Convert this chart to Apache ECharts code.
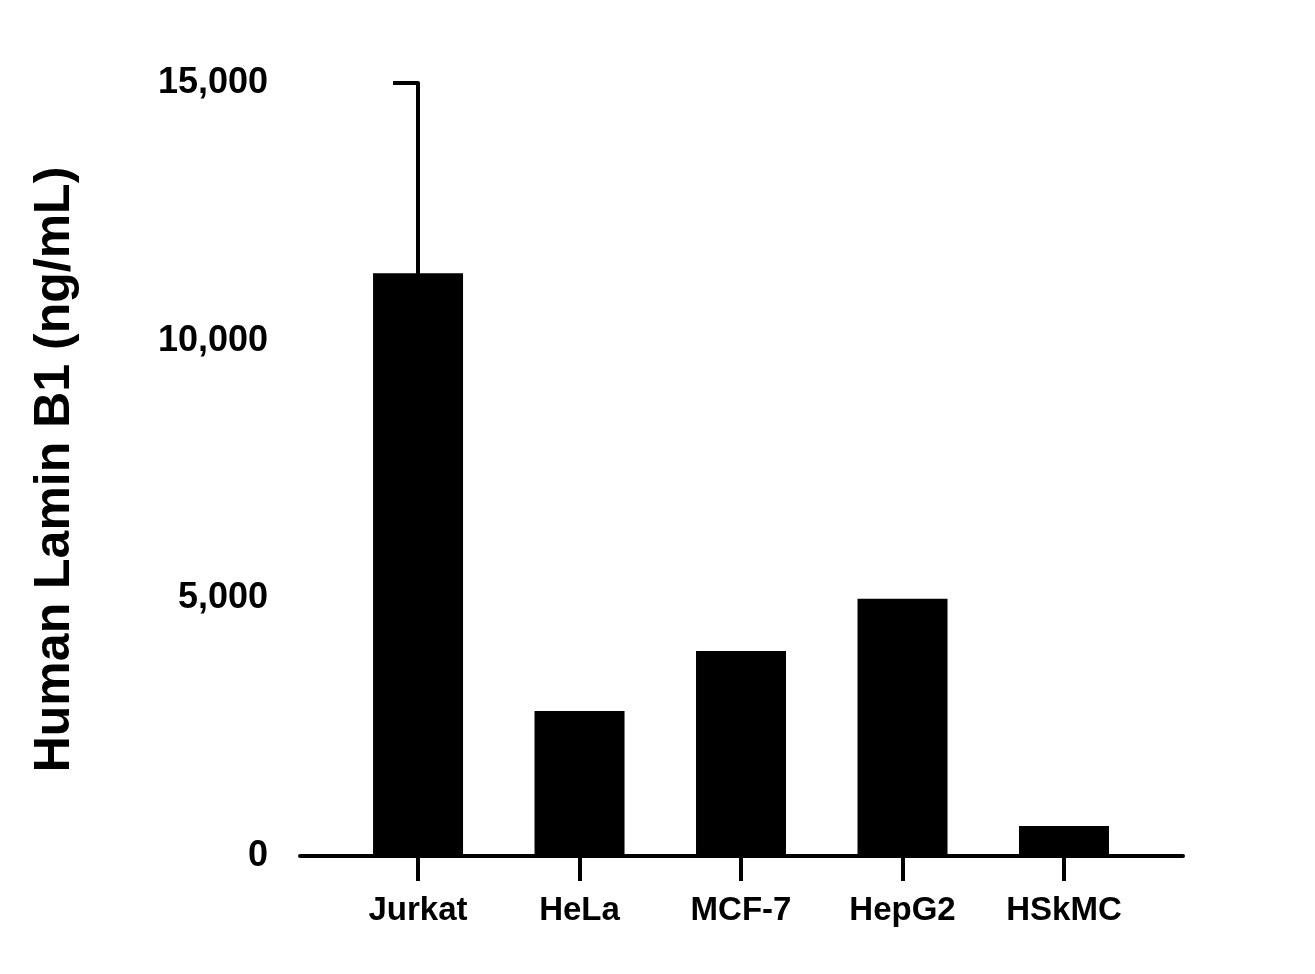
<!DOCTYPE html><html><head><meta charset="utf-8">
<script src="https://cdn.jsdelivr.net/npm/echarts@6/dist/echarts.min.js"></script>
<style>html,body{margin:0;padding:0;background:#fff}#c{width:1315px;height:974px}</style></head><body><div id="c"></div>
<script>
const categories=["Jurkat","HeLa","MCF-7","HepG2","HSkMC"];
const values=[11310,2815,3980,4990,580];
const yTicks=[0,5000,10000,15000];
const chart=echarts.init(document.getElementById('c'));
const F='Liberation Sans, Arial, sans-serif';
chart.setOption({
 animation:false,
 grid:{left:300,right:132,top:83,bottom:118},
 xAxis:{type:'value',min:-0.731,max:4.737,splitLine:{show:false},
  axisLine:{show:true,lineStyle:{color:'#000',width:4}},
  axisTick:{show:true,customValues:[0,1,2,3,4],length:25,lineStyle:{color:'#000',width:4}},
  axisLabel:{customValues:[0,1,2,3,4],formatter:v=>categories[Math.round(v)],color:'#000',fontFamily:F,fontWeight:'bold',fontSize:33,margin:38}},
 yAxis:{type:'value',min:0,max:15000,interval:5000,splitLine:{show:false},
  axisLine:{show:true,lineStyle:{color:'#000',width:4}},
  axisTick:{show:true,length:25,lineStyle:{color:'#000',width:4}},
  axisLabel:{color:'#000',fontFamily:F,fontWeight:'bold',fontSize:36,margin:32,formatter:v=>v.toLocaleString('en-US')},
  name:'Human Lamin B1 (ng/mL)',nameLocation:'middle',nameGap:220,
  nameTextStyle:{color:'#000',fontFamily:F,fontWeight:'bold',fontSize:50}},
 series:[{type:'bar',barWidth:90,itemStyle:{color:'#000'},data:values.map((v,i)=>[i,v])}]
});
</script></body></html>
